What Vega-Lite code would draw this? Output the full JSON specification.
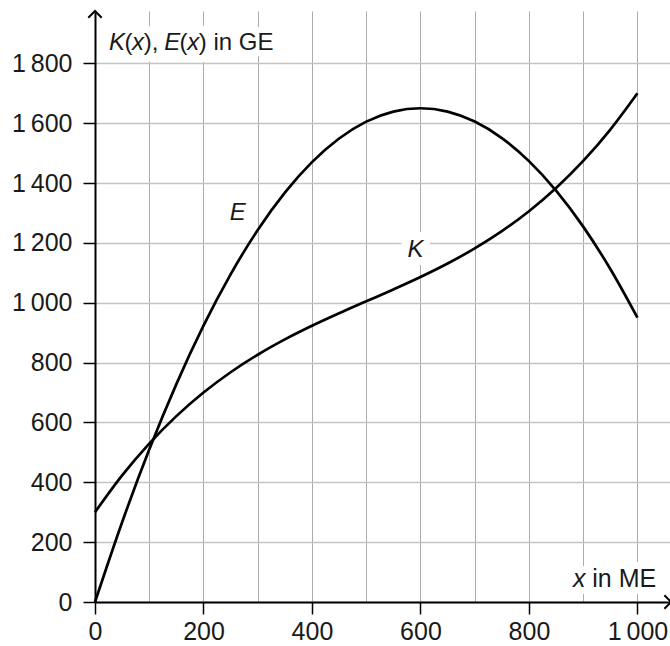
{
  "$schema": "https://vega.github.io/schema/vega-lite/v6.json",
  "width": 575,
  "height": 591,
  "autosize": "none",
  "padding": {"left": 95, "top": 11, "right": 0, "bottom": 44},
  "background": "white",
  "config": {"view": {"stroke": null}, "font": "Liberation Sans"},
  "datasets": {
    "curves": [
      {"x": 0, "y": 0, "f": "E"}, {"x": 50, "y": 266.7, "f": "E"}, {"x": 100, "y": 509.4, "f": "E"}, {"x": 150, "y": 728.2, "f": "E"}, {"x": 200, "y": 923.3, "f": "E"}, {"x": 250, "y": 1094.9, "f": "E"}, {"x": 300, "y": 1243.1, "f": "E"}, {"x": 350, "y": 1368.1, "f": "E"}, {"x": 400, "y": 1470, "f": "E"}, {"x": 450, "y": 1549, "f": "E"}, {"x": 500, "y": 1605.2, "f": "E"}, {"x": 550, "y": 1638.8, "f": "E"}, {"x": 600, "y": 1650, "f": "E"}, {"x": 650, "y": 1638.9, "f": "E"}, {"x": 700, "y": 1605.6, "f": "E"}, {"x": 750, "y": 1550.4, "f": "E"}, {"x": 800, "y": 1473.3, "f": "E"}, {"x": 850, "y": 1374.6, "f": "E"}, {"x": 900, "y": 1254.4, "f": "E"}, {"x": 950, "y": 1112.8, "f": "E"}, {"x": 1000, "y": 950, "f": "E"},
      {"x": 0, "y": 300, "f": "K"}, {"x": 50, "y": 423, "f": "K"}, {"x": 100, "y": 529.4, "f": "K"}, {"x": 150, "y": 621.2, "f": "K"}, {"x": 200, "y": 700, "f": "K"}, {"x": 250, "y": 767.8, "f": "K"}, {"x": 300, "y": 826.3, "f": "K"}, {"x": 350, "y": 877.5, "f": "K"}, {"x": 400, "y": 923, "f": "K"}, {"x": 450, "y": 964.8, "f": "K"}, {"x": 500, "y": 1004.7, "f": "K"}, {"x": 550, "y": 1044.5, "f": "K"}, {"x": 600, "y": 1086, "f": "K"}, {"x": 650, "y": 1131.1, "f": "K"}, {"x": 700, "y": 1181.6, "f": "K"}, {"x": 750, "y": 1239.3, "f": "K"}, {"x": 800, "y": 1306, "f": "K"}, {"x": 850, "y": 1383.6, "f": "K"}, {"x": 900, "y": 1473.9, "f": "K"}, {"x": 950, "y": 1578.8, "f": "K"}, {"x": 1000, "y": 1700, "f": "K"}
    ],
    "labels": [
      {"id": "axisY", "x": 26, "y": 1843},
      {"id": "axisX", "x": 881, "y": 51},
      {"id": "E", "x": 263, "y": 1275},
      {"id": "K", "x": 591, "y": 1153}
    ],
    "arrows": [
      {"id": "up", "x": 0, "y": 1975},
      {"id": "right", "x": 1062, "y": 0}
    ]
  },
  "encoding": {
    "x": {"field": "x", "type": "quantitative", "scale": {"domain": [0, 1060], "nice": false, "zero": false}},
    "y": {"field": "y", "type": "quantitative", "scale": {"domain": [0, 1975], "nice": false, "zero": false}}
  },
  "layer": [
    {
      "data": {"name": "curves"},
      "mark": {"type": "line", "opacity": 0},
      "encoding": {
        "detail": {"field": "f"},
        "x": {"field": "x", "type": "quantitative", "axis": {
          "title": null, "values": [0,100,200,300,400,500,600,700,800,900,1000],
          "grid": true, "gridColor": "#ababab", "gridWidth": 1,
          "domainColor": "black", "domainWidth": 2,
          "tickColor": "black", "tickWidth": 1.5, "tickSize": 12,
          "tickOpacity": {"condition": {"test": "datum.value % 200 == 0", "value": 1}, "value": 0},
          "labelExpr": "datum.value % 200 != 0 ? '' : (datum.value >= 1000 ? replace(format(datum.value, ','), ',', '\u2009') : format(datum.value, 'd'))",
          "labelFontSize": 25, "labelColor": "#1a1a1a", "labelPadding": 5, "labelFont": "Liberation Sans", "labelOverlap": false, "labelFlush": false
        }},
        "y": {"field": "y", "type": "quantitative", "axis": {
          "title": null, "values": [0,100,200,300,400,500,600,700,800,900,1000,1100,1200,1300,1400,1500,1600,1700,1800,1900],
          "grid": true, "gridColor": "#c4c4c4", "gridWidth": 1.4,
          "domainColor": "black", "domainWidth": 2,
          "tickColor": "black", "tickWidth": 1.5, "tickSize": 12,
          "tickOpacity": {"condition": {"test": "datum.value % 200 == 0", "value": 1}, "value": 0},
          "labelExpr": "datum.value % 200 != 0 ? '' : (datum.value >= 1000 ? replace(format(datum.value, ','), ',', '\u2009') : format(datum.value, 'd'))",
          "labelFontSize": 25, "labelColor": "#1a1a1a", "labelPadding": 11, "labelFont": "Liberation Sans", "labelOverlap": false, "labelFlush": false
        }}
      }
    },
    {
      "data": {"name": "labels"},
      "transform": [{"filter": "datum.id == 'axisY'"}],
      "mark": {"type": "text", "text": "K(x), E(x) in GE", "align": "left", "baseline": "alphabetic", "fontSize": 24, "stroke": "white", "strokeWidth": 14, "fill": "white", "strokeJoin": "round"}
    },
    {
      "data": {"name": "labels"},
      "transform": [{"filter": "datum.id == 'axisX'"}],
      "mark": {"type": "text", "text": "x in ME", "align": "left", "baseline": "alphabetic", "fontSize": 25, "stroke": "white", "strokeWidth": 14, "fill": "white", "strokeJoin": "round"}
    },
    {
      "data": {"name": "labels"},
      "transform": [{"filter": "datum.id == 'E' || datum.id == 'K'"}],
      "mark": {"type": "text", "align": "center", "baseline": "alphabetic", "fontSize": 24, "stroke": "white", "strokeWidth": 16, "fill": "white", "strokeJoin": "round"},
      "encoding": {"text": {"field": "id"}}
    },
    {
      "data": {"name": "curves"},
      "mark": {"type": "line", "color": "black", "strokeWidth": 2.7, "interpolate": "monotone"},
      "encoding": {"detail": {"field": "f"}}
    },
    {
      "data": {"name": "labels"},
      "transform": [{"filter": "datum.id == 'E' || datum.id == 'K'"}],
      "mark": {"type": "text", "align": "center", "baseline": "alphabetic", "fontSize": 24, "fontStyle": "italic", "color": "#1a1a1a"},
      "encoding": {"text": {"field": "id"}}
    },
    {
      "data": {"name": "labels"},
      "transform": [{"filter": "datum.id == 'axisY'"}],
      "layer": [
        {"mark": {"type": "text", "text": "K", "dx": 0, "align": "left", "baseline": "alphabetic", "fontSize": 24, "fontStyle": "italic", "color": "#1a1a1a"}},
        {"mark": {"type": "text", "text": "(", "dx": 15.4, "align": "left", "baseline": "alphabetic", "fontSize": 24, "color": "#1a1a1a"}},
        {"mark": {"type": "text", "text": "x", "dx": 23, "align": "left", "baseline": "alphabetic", "fontSize": 24, "fontStyle": "italic", "color": "#1a1a1a"}},
        {"mark": {"type": "text", "text": "),", "dx": 34.6, "align": "left", "baseline": "alphabetic", "fontSize": 24, "color": "#1a1a1a"}},
        {"mark": {"type": "text", "text": "E", "dx": 55.1, "align": "left", "baseline": "alphabetic", "fontSize": 24, "fontStyle": "italic", "color": "#1a1a1a"}},
        {"mark": {"type": "text", "text": "(", "dx": 70.5, "align": "left", "baseline": "alphabetic", "fontSize": 24, "color": "#1a1a1a"}},
        {"mark": {"type": "text", "text": "x", "dx": 78.1, "align": "left", "baseline": "alphabetic", "fontSize": 24, "fontStyle": "italic", "color": "#1a1a1a"}},
        {"mark": {"type": "text", "text": ") in GE", "dx": 89.7, "align": "left", "baseline": "alphabetic", "fontSize": 24, "color": "#1a1a1a"}}
      ]
    },
    {
      "data": {"name": "labels"},
      "transform": [{"filter": "datum.id == 'axisX'"}],
      "layer": [
        {"mark": {"type": "text", "text": "x", "dx": 0, "align": "left", "baseline": "alphabetic", "fontSize": 25, "fontStyle": "italic", "color": "#1a1a1a"}},
        {"mark": {"type": "text", "text": "in ME", "dx": 19.4, "align": "left", "baseline": "alphabetic", "fontSize": 25, "color": "#1a1a1a"}}
      ]
    },
    {
      "data": {"name": "arrows"},
      "transform": [{"filter": "datum.id == 'up'"}],
      "mark": {"type": "point", "shape": "M-1,1L0,0L1,1", "filled": false, "stroke": "black", "strokeWidth": 2, "size": 180, "opacity": 1}
    },
    {
      "data": {"name": "arrows"},
      "transform": [{"filter": "datum.id == 'right'"}],
      "mark": {"type": "point", "shape": "M-1,-1L0,0L-1,1", "filled": false, "stroke": "black", "strokeWidth": 2, "size": 180, "opacity": 1}
    }
  ]
}
